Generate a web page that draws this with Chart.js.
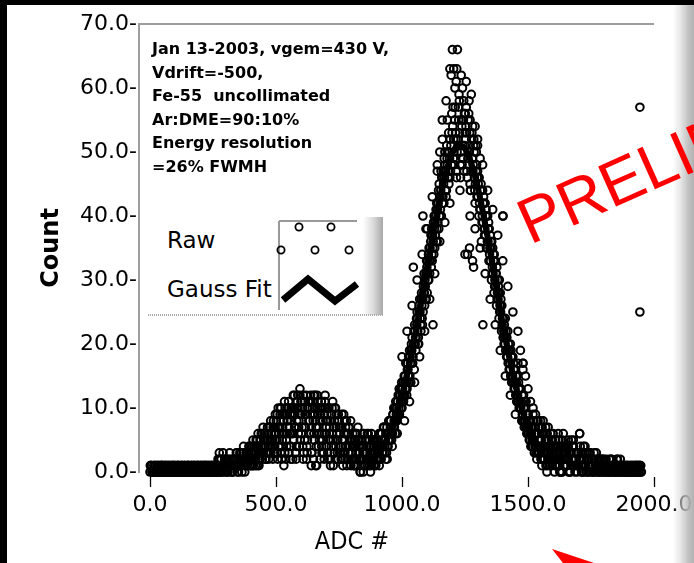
<!DOCTYPE html>
<html><head><meta charset="utf-8">
<script src="https://cdn.jsdelivr.net/npm/chart.js@4.4.1/dist/chart.umd.min.js"></script>
<style>
html,body{margin:0;padding:0;background:#000;}
#wrap{position:relative;width:694px;height:563px;overflow:hidden;background:#000;}
#panel{position:absolute;left:7px;top:5px;width:687px;height:558px;background:#fff;}
#c{position:absolute;left:0;top:0;}
.note{position:absolute;left:152px;top:37px;font:bold 16px "DejaVu Sans";line-height:23.6px;white-space:pre;color:#000;}
#legend{position:absolute;left:148px;top:217px;width:235px;height:99px;background:#fff;}
#legend .lab{position:absolute;left:19px;font:23px "DejaVu Sans";line-height:27px;color:#000;white-space:pre;}
#strip{position:absolute;left:673px;top:5px;width:21px;height:558px;background:linear-gradient(to right,rgba(255,255,255,0) 0%,rgba(215,215,215,0.6) 35%,rgba(185,185,185,0.9) 75%,#b2b2b2 100%);}
#xtitle{position:absolute;left:352px;top:540px;transform:translate(-50%,-50%);font:25px "DejaVu Sans Condensed";line-height:1;color:#000;white-space:pre;}
#over{position:absolute;left:0;top:0;pointer-events:none;}
</style></head>
<body>
<div id="wrap">
<div id="panel"></div>
<canvas id="c" width="694" height="563"></canvas>
<div class="note">Jan 13-2003, vgem=430 V,
Vdrift=-500,
Fe-55  uncollimated
Ar:DME=90:10%
Energy resolution
=26% FWMH</div>
<div id="legend">
<div class="lab" style="top:9.5px">Raw</div>
<div class="lab" style="top:58.5px">Gauss Fit</div>
<svg width="235" height="99" style="position:absolute;left:0;top:0">
<defs><linearGradient id="lg" x1="0" x2="1" y1="0" y2="0"><stop offset="0" stop-color="#fff"/><stop offset="0.5" stop-color="#dcdcdc"/><stop offset="1" stop-color="#a8a8a8"/></linearGradient></defs>
<rect x="215" y="0" width="20" height="98" fill="url(#lg)"/>
<line x1="0" y1="98" x2="235" y2="98" stroke="#aaa" stroke-width="2" stroke-dasharray="1 1"/>
<line x1="131" y1="4" x2="209" y2="4" stroke="#999" stroke-width="2"/>
<line x1="131" y1="4" x2="131" y2="93" stroke="#999" stroke-width="2"/>
<g fill="none" stroke="#000" stroke-width="1.8">
<circle cx="151" cy="10" r="3.6"/><circle cx="183" cy="10" r="3.6"/>
<circle cx="133" cy="33" r="3.6"/><circle cx="167" cy="33" r="3.6"/><circle cx="201" cy="33" r="3.6"/>
</g>
<polyline points="135,83 160,62 187,84 209,67" fill="none" stroke="#000" stroke-width="7"/>
</svg>
</div>
<div id="xtitle">ADC #</div>
<div id="strip"></div>
<svg id="over" width="694" height="563">
<text x="530" y="245" transform="rotate(-24 530 245)" font-family="Liberation Sans" font-size="64" fill="#ff0000">PRELIMINARY</text>
<polygon points="552,549 594,563 563,563" fill="#ff0000"/>
</svg>
</div>
<script>
const rawStep = 5;
const rawStartA = 0;      // 0, 5, 10, ... 1950
const rawStartB = 2.5;    // 2.5, 7.5, ... 1947.5
const rawStartC = 1.25;   // 1.25, 6.25, ... 1946.25
const rawStartD = 403.75; // 403.75 ... 1648.75
const rawCountA = [
 0,1,0,1,1,0,1,0,0,1,1,0,1,0,1,1,0,0,1,0,
 1,0,1,0,0,1,1,0,1,0,1,0,0,1,0,1,1,0,1,0,
 0,1,1,0,1,0,1,1,0,1,0,1,1,0,2,1,0,1,3,1,
 1,2,0,1,2,1,0,2,1,3,2,1,2,0,3,2,1,3,2,4,
 2,3,1,4,2,5,3,2,4,6,3,5,2,6,4,7,3,5,8,4,
 6,9,4,7,10,5,8,3,9,6,11,4,8,10,5,9,2,11,7,13,
 6,10,3,9,12,5,8,11,1,9,6,12,4,10,7,2,11,5,9,12,
 6,3,10,8,4,11,7,2,9,5,8,3,7,1,6,4,8,2,7,5,
 3,6,1,5,2,7,4,0,5,3,6,1,4,2,5,0,3,4,1,3,
 2,5,1,4,6,3,5,2,7,4,5,8,6,9,7,11,8,12,9,13,
 10,14,12,17,13,15,19,14,21,32,23,19,25,21,27,22,24,29,26,31,
 28,34,31,37,33,39,35,41,36,44,40,47,42,45,50,43,48,53,46,62,
 66,52,60,47,66,55,44,62,49,58,53,61,34,56,45,59,33,52,42,50,
 47,40,49,36,44,38,42,35,40,33,37,30,35,28,33,26,30,24,28,22,
 40,20,24,18,22,16,20,14,18,13,16,11,17,10,13,8,17,7,10,6,
 9,5,8,4,9,3,7,2,6,3,8,1,6,2,7,0,5,2,6,1,
 4,0,5,2,6,1,3,0,4,2,3,1,5,0,3,2,4,1,2,0,
 3,6,1,2,0,3,1,2,0,3,1,2,0,2,1,0,2,1,0,2,
 1,0,2,1,0,1,2,0,1,1,0,2,1,0,1,1,0,1,0,1,
 1,0,1,0,1,1,0,1,0,1,0
];
const rawCountB = [
 1,0,0,1,0,1,1,0,1,1,0,1,0,0,1,0,1,1,0,1,
 0,1,1,0,1,0,0,1,0,1,1,0,1,0,1,0,0,1,0,1,
 1,0,0,1,1,0,1,0,1,0,1,1,0,1,1,0,2,1,0,2,
 0,1,2,1,0,2,1,1,3,0,1,2,3,1,2,1,3,2,4,1,
 3,1,4,2,3,4,1,5,3,4,6,2,5,3,7,4,6,2,6,9,
 3,7,5,10,2,8,6,9,4,10,7,2,9,6,12,3,8,10,4,9,
 11,2,7,9,4,10,6,12,3,8,10,1,7,11,5,9,3,10,6,8,
 9,2,7,5,10,1,8,4,6,9,3,7,5,2,8,4,6,3,5,1,
 5,2,4,6,1,4,3,5,2,4,1,3,6,2,4,1,5,2,3,4,
 4,3,6,2,4,7,3,6,4,8,5,7,6,10,8,9,11,10,12,11,
 13,12,15,14,17,15,18,20,17,22,20,24,22,26,24,28,27,31,29,33,
 31,35,33,38,35,40,37,42,39,45,41,46,43,49,44,51,46,50,47,56,
 57,48,53,63,51,58,46,54,49,56,52,47,55,50,44,53,48,46,51,43,
 45,42,44,39,42,37,40,35,38,34,36,31,34,29,31,27,29,25,27,23,
 24,21,22,19,20,17,19,15,17,14,15,12,14,11,13,9,12,8,11,7,
 8,6,7,5,8,4,6,3,7,4,5,2,6,3,5,1,4,3,5,2,
 3,1,4,2,5,0,4,2,3,1,4,2,3,0,5,1,3,2,1,3,
 2,4,0,3,2,1,3,0,2,1,2,0,3,1,1,2,0,1,2,1,
 0,1,1,0,2,0,1,1,0,1,2,0,1,1,0,1,1,0,1,0,
 0,1,1,0,0,1,1,0,1,1
];
const rawCountC = [
 1,1,0,0,1,0,0,1,1,0,1,0,1,1,0,0,1,0,1,1,
 0,0,1,1,0,1,0,1,0,0,1,1,0,1,0,1,0,1,1,0,
 1,0,1,1,0,1,0,0,1,1,0,1,0,1,0,2,1,0,1,2,
 2,0,1,3,1,0,2,1,2,1,0,3,1,2,4,0,2,1,3,2,
 1,4,2,3,5,1,4,3,6,2,5,4,3,7,2,5,6,4,7,5,
 8,2,6,9,4,7,1,10,5,8,3,9,6,2,10,7,4,12,8,5,
 9,4,11,7,2,10,6,9,3,11,5,8,1,9,6,10,4,8,2,10,
 4,8,6,1,9,5,3,10,6,2,7,4,9,3,5,7,1,6,4,8,
 2,4,5,1,6,3,2,5,4,0,3,5,2,6,1,4,2,5,3,1,
 5,2,4,6,3,7,4,6,2,5,8,6,4,7,10,8,6,9,12,10,
 12,11,14,13,16,18,15,19,17,20,22,21,24,20,25,27,23,28,30,27,
 33,30,35,32,37,34,39,36,41,38,43,40,46,42,48,44,50,45,52,48,
 54,50,57,46,52,59,48,55,51,47,56,53,49,58,44,52,47,50,45,48,
 43,46,41,44,39,42,37,40,36,38,33,36,31,34,29,32,27,30,25,26,
 21,23,19,21,17,19,15,18,14,16,12,15,11,13,10,12,8,11,7,9,
 6,8,4,7,5,6,3,8,4,5,2,7,3,4,1,6,3,4,2,5,
 2,4,1,3,4,0,2,5,1,3,2,4,0,3,1,4,2,0,3,1,
 1,2,3,0,1,4,0,2,1,3,0,1,2,0,3,1,0,2,1,0,
 2,1,0,1,1,0,2,1,0,0,1,1,0,2,0,1,0,1,1,0,
 1,0,0,1,0,1,0,1,1,0
];
const rawCountD = [
 2,5,3,1,4,6,2,5,3,7,4,2,6,5,3,8,5,7,3,6,
 5,10,7,3,9,6,11,2,8,10,6,4,9,12,7,3,10,6,9,11,
 7,12,5,9,3,11,8,6,10,2,9,7,12,4,8,10,6,3,11,7,
 8,5,2,9,6,4,10,7,3,8,6,2,5,9,3,6,2,7,4,3,
 4,1,6,3,5,2,0,4,6,2,3,5,1,4,3,6,2,4,5,2,
 3,6,2,5,4,7,5,3,6,8,7,5,9,8,6,10,9,13,11,14,
 11,15,13,12,16,14,17,19,18,16,21,23,20,25,23,26,25,28,27,32,
 30,33,36,34,36,38,40,38,42,40,44,43,47,46,47,49,47,49,51,53,
 49,55,52,50,57,53,50,48,55,51,54,46,50,53,47,49,51,44,47,46,
 46,41,45,40,43,38,41,36,39,35,35,32,33,30,31,28,28,26,26,24,
 22,20,21,18,19,16,18,15,16,13,14,12,13,10,11,9,10,8,9,7,
 7,5,6,4,5,6,4,3,5,4,6,2,4,5,3,2,4,1,3,4,
 2,3,1,4,2,3,0,2,4,1
];
// scattered points off the main band (outliers and wide flank points)
const rawExtraAdc   = [275,540,560,595,615,650,680,705,1083,1095,1123,1140,1150,1160,1175,1190,1205,1215,1240,1250,1255,1268,1270,1284,1290,1300,1321,1401,1480,1705,1944,1944];
const rawExtraCount = [3,9,10,12,11,12,11,10,40,38,23,48,50,55,58,63,63,61,60,34,57,35,55,32,54,52,23,40,17,6,57,25];
const rawFlankAdc   = [1000,1010,1020,1030,1040,1050,1060,1070,1080,1090,1100,1110,1120,1130,1140,1150,1160,1170,1180,1190,
                       1270,1280,1290,1300,1310,1320,1330,1340,1350,1360,1370,1380,1390,1400,1410,1420,1430,1440,1450,1460,
                       1470,1480,1490,1500,1510,1520,1530,1540,1550,1560,1570,1580,1600,1620,1640,1660,1680,1720,1740];
const rawFlankCount = [18,8,22,11,26,14,30,18,34,22,38,27,43,31,47,36,52,39,55,42,
                       40,54,38,51,35,48,31,44,27,41,23,37,19,33,15,29,12,25,9,22,
                       19,16,15,13,11,10,9,8,7,8,6,7,6,5,6,4,5,4,3];
// ---- data: Gaussian fit curve ----
const fitAdc   = [900,920,940,960,980,1000,1020,1040,1060,1080,1100,1120,1140,1160,1180,1200,1220,1240,1260,1280,1300,1320,1340,1360,1380,1400,1420,1440,1460,1480,1500,1520,1540,1560];
const fitCount = [2.6,3.7,5.1,6.9,9.2,12.0,15.2,19.0,23.1,27.5,32.1,36.6,40.8,44.6,47.6,49.8,50.9,50.9,49.8,47.6,44.6,40.8,36.6,32.1,27.5,23.1,19.0,15.2,12.0,9.2,6.9,5.1,3.7,2.6];
const xTickValues = [0,500,1000,1500,2000];
const yTickValues = [0,10,20,30,40,50,60,70];

const grid = (arr, start) => arr.map((c,i)=>({x:start+i*rawStep, y:c}));
const pairs = (xs, ys) => xs.map((a,i)=>({x:a, y:ys[i]}));
const rawPoints = grid(rawCountA, rawStartA)
  .concat(grid(rawCountB, rawStartB))
  .concat(grid(rawCountC, rawStartC))
  .concat(grid(rawCountD, rawStartD))
  .concat(pairs(rawExtraAdc, rawExtraCount))
  .concat(pairs(rawFlankAdc, rawFlankCount));
const fitPoints = pairs(fitAdc, fitCount);

const decor = {
  id:'decor',
  afterDraw(chart){
    const {ctx, chartArea:a, scales:{x}} = chart;
    ctx.save();
    ctx.strokeStyle='#9d9d9d'; ctx.lineWidth=2;
    ctx.beginPath(); ctx.moveTo(a.left, a.top); ctx.lineTo(x.getPixelForValue(2000), a.top); ctx.stroke();
    ctx.strokeStyle='#000'; ctx.lineWidth=1.3;
    xTickValues.forEach(v=>{
      const px = Math.round(x.getPixelForValue(v))+0.5;
      ctx.beginPath(); ctx.moveTo(px, a.bottom+5); ctx.lineTo(px, a.bottom+15); ctx.stroke();
    });
    ctx.restore();
  }
};

new Chart(document.getElementById('c'), {
  type:'scatter',
  data:{datasets:[
    {label:'Raw', data:rawPoints, pointStyle:'circle', pointRadius:3.8, pointHoverRadius:3.8,
     pointBorderWidth:2, borderColor:'#000', backgroundColor:'rgba(0,0,0,0)', clip:false},
    {label:'Gauss Fit', type:'line', data:fitPoints, showLine:true, borderColor:'#000', borderWidth:6,
     pointRadius:0, cubicInterpolationMode:'monotone', fill:false, clip:false}
  ]},
  options:{
    responsive:false, animation:false, devicePixelRatio:1,
    layout:{padding:{left:0,top:24,right:40,bottom:0}},
    plugins:{legend:{display:false}, tooltip:{enabled:false}},
    scales:{
      x:{type:'linear', min:-43.6, max:2000,
        afterBuildTicks:s=>{s.ticks = xTickValues.map(v=>({value:v}));},
        ticks:{callback:v=>Number(v).toFixed(1), font:{family:'DejaVu Sans',size:22}, color:'#000', padding:4, maxRotation:0, autoSkip:false},
        grid:{display:true, drawOnChartArea:false, drawTicks:true, tickLength:16, tickColor:'rgba(0,0,0,0)'},
        border:{display:false},
        afterFit:s=>{s.height=91; s.paddingLeft=0; s.paddingRight=0;}
      },
      y:{type:'linear', min:0, max:70,
        afterBuildTicks:s=>{s.ticks = yTickValues.map(v=>({value:v}));},
        ticks:{callback:v=>Number(v).toFixed(1)+'-', font:{family:'DejaVu Sans',size:22}, color:'#000', padding:2, autoSkip:false},
        grid:{display:true, drawOnChartArea:false, drawTicks:false},
        border:{display:true, color:'#9d9d9d', width:2},
        title:{display:true, text:'Count', font:{family:'DejaVu Sans',size:24,weight:'bold'}, color:'#000', padding:{top:37,bottom:0}},
        afterFit:s=>{s.width=139; s.paddingTop=0; s.paddingBottom=0;}
      }
    }
  },
  plugins:[decor]
});
</script>
</body></html>
